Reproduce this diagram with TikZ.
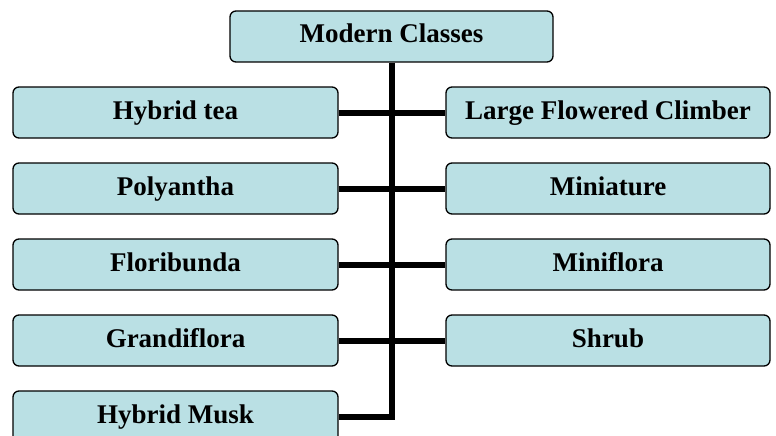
\documentclass[tikz,border=0pt]{standalone}
\usepackage{fontspec}
\setmainfont{Liberation Serif}
\usetikzlibrary{positioning}
\definecolor{boxcyan}{RGB}{186, 224, 228}
\tikzstyle{classbox} = [rectangle, rounded corners=6pt, minimum width=325pt, minimum height=51pt, text height=18pt, text depth=5pt, text centered, draw=black, line width=1.3pt, fill=boxcyan, font=\bfseries\fontsize{27}{32}\selectfont]
\tikzstyle{link} = [line width=6pt, draw=black]

\begin{document}
\begin{tikzpicture}[x=1pt, y=-1pt, node distance=76pt]
\useasboundingbox (0,0) rectangle (776,436);

% Root
\node (modern) [classbox, minimum width=323pt] at (391.5,36.5) {Modern Classes};

% Left column
\node (hybridtea) [classbox] at (175.5,112.5) {Hybrid tea};
\node (polyantha) [classbox, below of=hybridtea] {Polyantha};
\node (floribunda) [classbox, below of=polyantha] {Floribunda};
\node (grandiflora) [classbox, below of=floribunda] {Grandiflora};
\node (hybridmusk) [classbox, below of=grandiflora] {Hybrid Musk};

% Right column
\node (climber) [classbox, minimum width=324pt] at (608,112.5) {Large Flowered Climber};
\node (miniature) [classbox, minimum width=324pt, below of=climber] {Miniature};
\node (miniflora) [classbox, minimum width=324pt, below of=miniature] {Miniflora};
\node (shrub) [classbox, minimum width=324pt, below of=miniflora] {Shrub};

% Links
\draw [link] (modern) |- (hybridmusk);
\draw [link] (hybridtea) -- (climber);
\draw [link] (polyantha) -- (miniature);
\draw [link] (floribunda) -- (miniflora);
\draw [link] (grandiflora) -- (shrub);

\end{tikzpicture}
\end{document}
